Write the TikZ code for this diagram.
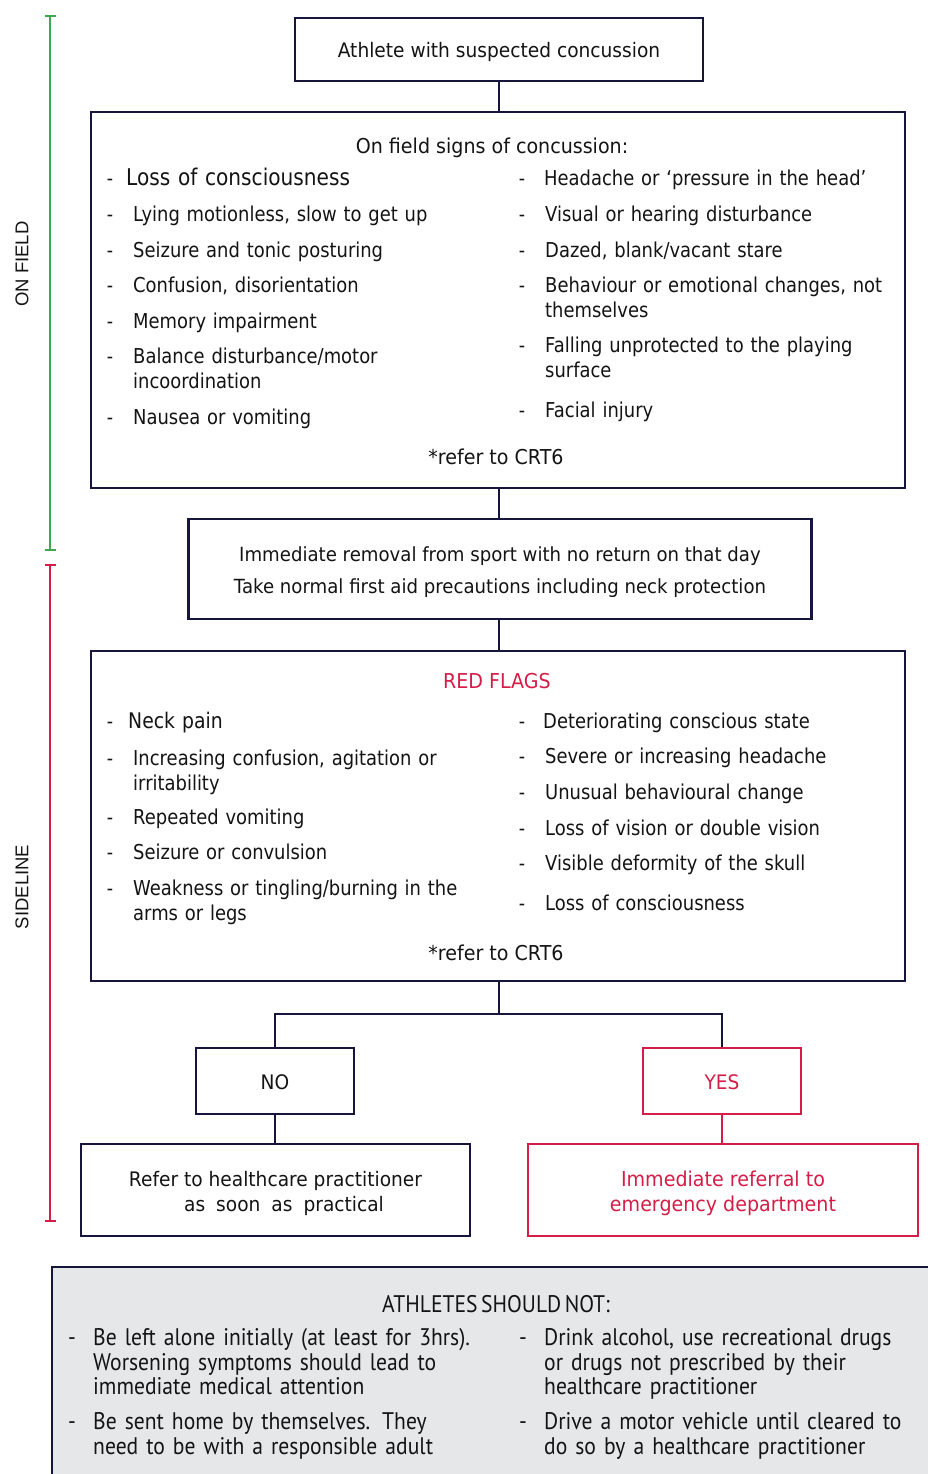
\documentclass[tikz,border=0pt]{standalone}
\usepackage{fontspec}
\setmainfont{DejaVu Sans}[FakeStretch=0.93]
\newfontfamily\itemfont{DejaVu Sans}[FakeStretch=0.875]
\newfontfamily\notfont{PT Sans}[FakeStretch=0.9]
\newfontfamily\sidefont{Liberation Sans}
\newcommand{\notsize}{\notfont\fontsize{24}{24.5}\selectfont\spaceskip=3.5pt plus 1pt minus 0.5pt\relax}
\usetikzlibrary{calc}
\definecolor{navy}{RGB}{22,22,60}
\definecolor{flagred}{RGB}{212,30,72}
\definecolor{fieldgreen}{RGB}{60,168,80}
\definecolor{boxgray}{RGB}{230,231,233}
\definecolor{ink}{RGB}{20,20,20}
\begin{document}
\begin{tikzpicture}[x=1pt,y=-1pt,
  box/.style={draw=navy,line width=2.4pt,rectangle,inner sep=0pt,align=center,text=ink},
  redbox/.style={box,draw=flagred,text=flagred},
  link/.style={draw=navy,line width=2.4pt},
  redlink/.style={draw=flagred,line width=2.4pt},
  bracket/.style={line width=2.4pt},
  dashmark/.style={anchor=mid,inner sep=0pt,yshift=-5pt,text=ink,font=\itemfont\fontsize{20}{24}\selectfont},
  itemtext/.style={anchor=mid west,inner sep=0pt,yshift=-5pt,text=ink,align=left,text width=380pt,font=\itemfont\fontsize{20.5}{24.5}\selectfont},
  heading/.style={anchor=mid,inner sep=0pt,yshift=-5pt,text=ink,font=\fontsize{20.5}{24}\selectfont},
  notdash/.style={anchor=mid,inner sep=0pt,yshift=-5pt,text=ink,font=\notsize},
  nottext/.style={anchor=mid west,inner sep=0pt,yshift=-5pt,text=ink,align=left,text width=400pt,font=\notsize},
  sidelabel/.style={rotate=90,anchor=center,inner sep=0pt,text=ink,font=\sidefont\fontsize{18.5}{22}\selectfont}
]
\useasboundingbox (0,0) rectangle (928,1474);
\fill[white] (0,0) rectangle (928,1474);

% side brackets
\draw[bracket,fieldgreen] (45,16) -- (56,16) (50,16) -- (50,550) (45,550) -- (56,550);
\draw[bracket,flagred] (45,565) -- (56,565) (50,565) -- (50,1221) (45,1221) -- (56,1221);
\node[sidelabel] (onfield) at (22,264) {ON FIELD};
\node[sidelabel] (sideline) at (22,887) {SIDELINE};

% boxes
\node[box,minimum width=408pt,minimum height=63pt,font=\fontsize{20}{24}\selectfont] (athlete) at (499,49.5) {\rule{0pt}{19.5pt}Athlete with suspected concussion};
\node[box,minimum width=814pt,minimum height=376pt] (signs) at (498,300) {};
\node[box,minimum width=623pt,minimum height=100pt,font=\fontsize{19.5}{32}\selectfont] (removal) at (500,569) {\rule{0pt}{21pt}Immediate removal from sport with no return on that day\\Take normal first aid precautions including neck protection};
\node[box,minimum width=814pt,minimum height=330pt] (redflags) at (498,816) {};
\node[box,minimum width=158pt,minimum height=66pt,font=\fontsize{20}{24}\selectfont] (no) at (275,1081) {\rule{0pt}{17pt}NO};
\node[redbox,minimum width=158pt,minimum height=66pt,font=\fontsize{20}{24}\selectfont] (yes) at (722,1081) {\rule{0pt}{17pt}YES};
\node[box,minimum width=389pt,minimum height=92pt,font=\fontsize{20}{25}\selectfont] (refer) at (275.5,1190) {\rule{0pt}{23pt}Refer to healthcare practitioner\\\hspace*{17pt}as\hspace{11pt}soon\hspace{11pt}as\hspace{11pt}practical};
\node[redbox,minimum width=390pt,minimum height=92pt,font=\fontsize{20.5}{25}\selectfont] (emerg) at (723,1190) {\rule{0pt}{23pt}Immediate referral to\\emergency department};
\node[fill=boxgray,inner sep=0pt,minimum width=876pt,minimum height=207pt] (avoid) at (490,1370.5) {};
\draw[link] (avoid.south west) -- (avoid.north west) -- (avoid.north east);

% connectors
\coordinate (split) at (499,1014);
\draw[link] (athlete.south) -- (athlete.south |- signs.north);
\draw[link] (athlete.south |- signs.south) -- (athlete.south |- removal.north);
\draw[link] (athlete.south |- removal.south) -- (athlete.south |- redflags.north);
\draw[link] (athlete.south |- redflags.south) -- (split);
\draw[link] (no.north) |- (split) -| (yes.north);
\draw[link] (no.south) -- (no.south |- refer.north);
\draw[redlink] (yes.south) -- (yes.south |- emerg.north);

% on-field signs
\node[heading] (signstitle) at (492,146) {On field signs of concussion:};
\node[dashmark] (sd1) at (110,178) {-};
\node[itemtext,font=\itemfont\fontsize{23}{24.5}\selectfont] (s1) at (126,178) {Loss of consciousness};
\node[dashmark] (sd2) at (110,214) {-};
\node[itemtext] (s2) at (133,214) {Lying motionless, slow to get up};
\node[dashmark] (sd3) at (110,250) {-};
\node[itemtext] (s3) at (133,250) {Seizure and tonic posturing};
\node[dashmark] (sd4) at (110,285) {-};
\node[itemtext] (s4) at (133,285) {Confusion, disorientation};
\node[dashmark] (sd5) at (110,321) {-};
\node[itemtext] (s5) at (133,321) {Memory impairment};
\node[dashmark] (sd6) at (110,356) {-};
\node[itemtext] (s6) at (133,356) {Balance disturbance/motor\\incoordination};
\node[dashmark] (sd7) at (110,417) {-};
\node[itemtext] (s7) at (133,417) {Nausea or vomiting};
\node[dashmark] (sd8) at (522,178) {-};
\node[itemtext] (s8) at (544,178) {Headache or ‘pressure in the head’};
\node[dashmark] (sd9) at (522,214) {-};
\node[itemtext] (s9) at (545,214) {Visual or hearing disturbance};
\node[dashmark] (sd10) at (522,250) {-};
\node[itemtext] (s10) at (545,250) {Dazed, blank/vacant stare};
\node[dashmark] (sd11) at (522,285) {-};
\node[itemtext] (s11) at (545,285) {Behaviour or emotional changes, not\\themselves};
\node[dashmark] (sd12) at (522,345) {-};
\node[itemtext] (s12) at (545,345) {Falling unprotected to the playing\\surface};
\node[dashmark] (sd13) at (522,410) {-};
\node[itemtext] (s13) at (545,410) {Facial injury};
\node[heading] (crt1) at (496,457) {*refer to CRT6};

% red flags
\node[heading,text=flagred] (rftitle) at (497,681) {RED FLAGS};
\node[dashmark] (rd1) at (110,721) {-};
\node[itemtext,font=\itemfont\fontsize{21.5}{24.5}\selectfont] (r1) at (128,721) {Neck pain};
\node[dashmark] (rd2) at (110,758) {-};
\node[itemtext] (r2) at (133,758) {Increasing confusion, agitation or\\irritability};
\node[dashmark] (rd3) at (110,817) {-};
\node[itemtext] (r3) at (133,817) {Repeated vomiting};
\node[dashmark] (rd4) at (110,852) {-};
\node[itemtext] (r4) at (133,852) {Seizure or convulsion};
\node[dashmark] (rd5) at (110,888) {-};
\node[itemtext] (r5) at (133,888) {Weakness or tingling/burning in the\\arms or legs};
\node[dashmark] (rd6) at (522,721) {-};
\node[itemtext] (r6) at (543,721) {Deteriorating conscious state};
\node[dashmark] (rd7) at (522,756) {-};
\node[itemtext] (r7) at (545,756) {Severe or increasing headache};
\node[dashmark] (rd8) at (522,792) {-};
\node[itemtext] (r8) at (545,792) {Unusual behavioural change};
\node[dashmark] (rd9) at (522,828) {-};
\node[itemtext] (r9) at (545,828) {Loss of vision or double vision};
\node[dashmark] (rd10) at (522,863) {-};
\node[itemtext] (r10) at (545,863) {Visible deformity of the skull};
\node[dashmark] (rd11) at (522,903) {-};
\node[itemtext] (r11) at (545,903) {Loss of consciousness};
\node[heading] (crt2) at (496,953) {*refer to CRT6};

% athletes should not
\node[anchor=mid,inner sep=0pt,yshift=-5pt,text=ink,font=\notsize] (nottitle) at (496,1305) {ATHLETES SHOULD NOT:};
\node[notdash] (nd1) at (72,1338) {-};
\node[nottext] (n1) at (93,1338) {Be left alone initially (at least for 3hrs).\\Worsening symptoms should lead to\\immediate medical attention};
\node[notdash] (nd2) at (72,1422) {-};
\node[nottext] (n2) at (93,1422) {Be sent home by themselves. They\\need to be with a responsible adult};
\node[notdash] (nd3) at (523,1338) {-};
\node[nottext] (n3) at (544,1338) {Drink alcohol, use recreational drugs\\or drugs not prescribed by their\\healthcare practitioner};
\node[notdash] (nd4) at (523,1422) {-};
\node[nottext] (n4) at (544,1422) {Drive a motor vehicle until cleared to\\do so by a healthcare practitioner};
\end{tikzpicture}
\end{document}
